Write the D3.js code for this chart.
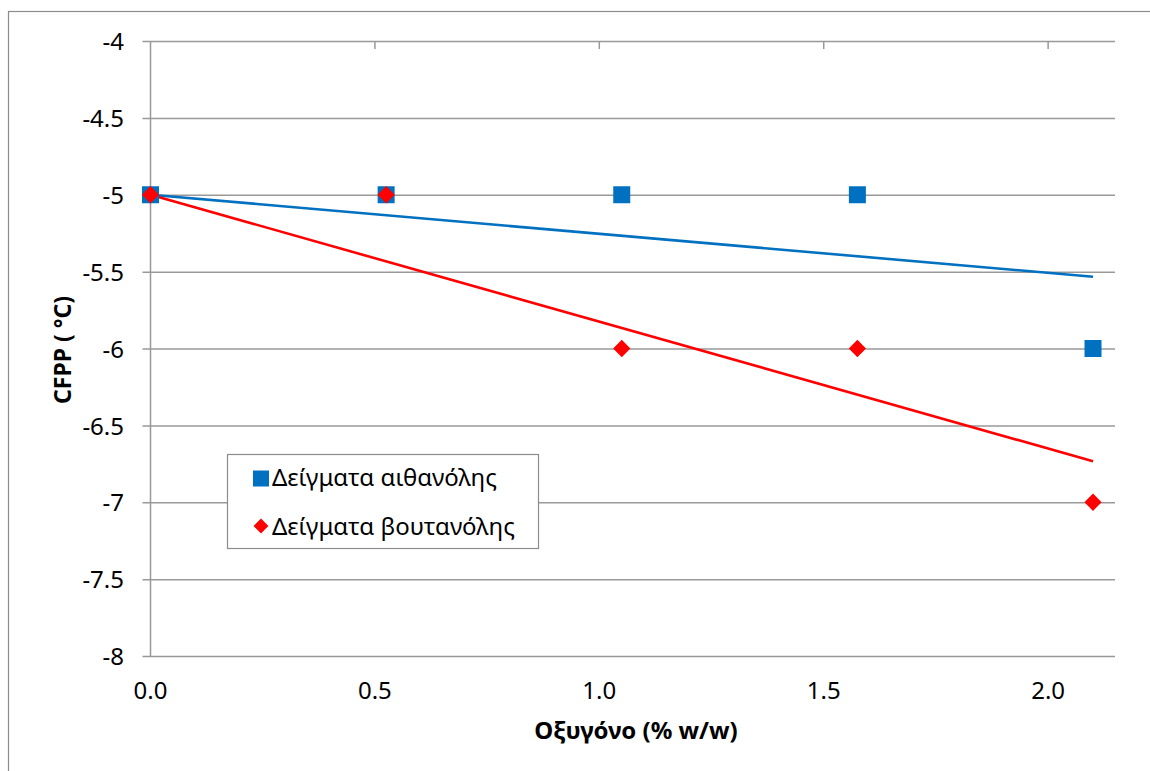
<!DOCTYPE html>
<html>
<head>
<meta charset="utf-8">
<script src="https://cdn.jsdelivr.net/npm/d3@7"></script>
<style>
  html, body { margin: 0; padding: 0; background: #fff; }
  svg { display: block; }
  text { font-family: "Noto Sans", "Open Sans", sans-serif; fill: #000; }
</style>
</head>
<body>
<svg id="chart" width="1150" height="771"></svg>
<script>
// Oxygen content (% w/w) of the blends
const oxygen = [0, 0.525, 1.05, 1.575, 2.1];
// CFPP (°C) measured for each blend series
const ethanolCFPP = [-5, -5, -5, -5, -6];
const butanolCFPP = [-5, -5, -6, -6, -7];
const seriesNames = ["Δείγματα αιθανόλης", "Δείγματα βουτανόλης"];
const seriesColors = ["#0070C0", "#FF0000"];
const xTicks = [0, 0.5, 1.0, 1.5, 2.0];
const yTicks = [-4, -4.5, -5, -5.5, -6, -6.5, -7, -7.5, -8];
const xTitle = "Οξυγόνο (% w/w)";
const yTitle = "CFPP ( °C)";
// Linear trendlines use a fixed intercept equal to the first measured value
const trendIntercept = -5;

const svg = d3.select("#chart");
const plot = { left: 150.5, right: 1115, top: 41, bottom: 656 };

const x = d3.scaleLinear().domain([0, 2.149]).range([plot.left, plot.right]);
const y = d3.scaleLinear().domain([-8, -4]).range([plot.bottom, plot.top]);

// chart-area border
svg.append("rect")
  .attr("x", 8.5).attr("y", 11.5).attr("width", 1200).attr("height", 800)
  .attr("fill", "none").attr("stroke", "#8c8c8c").attr("stroke-width", 1.2);

// horizontal gridlines with left tick marks
const yAxis = d3.axisLeft(y).tickValues(yTicks)
  .tickSize(-(plot.right - plot.left)).tickSizeOuter(0)
  .tickFormat(d => d3.format("")(d).replace("\u2212", "-"));
const gy = svg.append("g").attr("transform", `translate(${plot.left},0)`).call(yAxis);
gy.attr("font-size", null).attr("font-family", null);
gy.select(".domain").remove();
gy.selectAll(".tick line").attr("stroke", "#999").attr("stroke-width", 1.5)
  .attr("x1", -8);
gy.selectAll(".tick text").attr("x", -26.5).attr("dy", "0.36em")
  .attr("fill", "#000")
  .style("font-size", "24px");

// vertical axis line
svg.append("line")
  .attr("x1", plot.left).attr("x2", plot.left).attr("y1", plot.top).attr("y2", plot.bottom)
  .attr("stroke", "#999").attr("stroke-width", 1.5);

// x tick marks along the top edge
svg.append("g").selectAll("line").data(xTicks.slice(1)).join("line")
  .attr("x1", d => x(d)).attr("x2", d => x(d))
  .attr("y1", plot.top).attr("y2", plot.top + 8)
  .attr("stroke", "#999").attr("stroke-width", 1.5);

// x tick labels below the plot
svg.append("g").selectAll("text").data(xTicks).join("text")
  .attr("x", d => x(d)).attr("y", 699)
  .attr("text-anchor", "middle")
  .style("font-size", "24px")
  .text(d => d3.format(".1f")(d));

// axis titles
svg.append("text")
  .attr("x", 636).attr("y", 739).attr("text-anchor", "middle")
  .style("font-size", "24px").style("font-weight", "bold")
  .text(xTitle);
svg.append("text")
  .attr("transform", `translate(71,350) rotate(-90)`)
  .attr("text-anchor", "middle")
  .style("font-size", "23px").style("font-weight", "bold")
  .text(yTitle);

// least-squares slope through the fixed intercept
function slopeThrough(xs, ys, b) {
  const num = d3.sum(xs, (v, i) => v * (ys[i] - b));
  const den = d3.sum(xs, v => v * v);
  return num / den;
}

const series = [ethanolCFPP, butanolCFPP];
const xEnd = d3.max(oxygen);
series.forEach((vals, i) => {
  const m = slopeThrough(oxygen, vals, trendIntercept);
  svg.append("line")
    .attr("x1", x(0)).attr("y1", y(trendIntercept))
    .attr("x2", x(xEnd)).attr("y2", y(trendIntercept + m * xEnd))
    .attr("stroke", seriesColors[i]).attr("stroke-width", 2.6);
});

// markers: squares for ethanol, diamonds for butanol
const sq = d3.symbol().type(d3.symbolSquare).size(17 * 17);
const dia = d3.symbol().type(d3.symbolSquare).size(12.2 * 12.2);
svg.append("g").selectAll("path").data(oxygen.map((v, i) => [v, ethanolCFPP[i]])).join("path")
  .attr("d", sq)
  .attr("transform", d => `translate(${x(d[0])},${y(d[1])})`)
  .attr("fill", seriesColors[0]);
svg.append("g").selectAll("path").data(oxygen.map((v, i) => [v, butanolCFPP[i]])).join("path")
  .attr("d", dia)
  .attr("transform", d => `translate(${x(d[0])},${y(d[1])}) rotate(45)`)
  .attr("fill", seriesColors[1]);

// legend
const lg = svg.append("g");
lg.append("rect")
  .attr("x", 227.5).attr("y", 454.5).attr("width", 311).attr("height", 94)
  .attr("fill", "#fff").attr("stroke", "#8c8c8c").attr("stroke-width", 1.2);
lg.append("path").attr("d", d3.symbol().type(d3.symbolSquare).size(16 * 16))
  .attr("transform", "translate(261,478.5)").attr("fill", seriesColors[0]);
lg.append("path").attr("d", d3.symbol().type(d3.symbolSquare).size(10.5 * 10.5))
  .attr("transform", "translate(261,526) rotate(45)").attr("fill", seriesColors[1]);
lg.selectAll("text.lbl").data(seriesNames).join("text")
  .attr("class", "lbl")
  .attr("x", 272).attr("y", (d, i) => 486 + i * 49)
  .style("font-size", "24px")
  .text(d => d);
</script>
</body>
</html>
